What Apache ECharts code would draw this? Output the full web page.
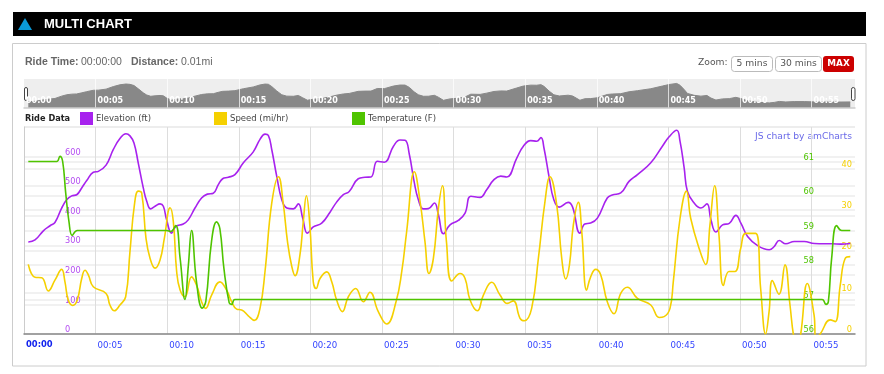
<!DOCTYPE html>
<html>
<head>
<meta charset="utf-8">
<style>html,body{margin:0;padding:0;background:#fff}#c{width:884px;height:374px}</style>
<script src="https://cdn.jsdelivr.net/npm/echarts@6/dist/echarts.min.js"></script>
</head>
<body>
<div id="c"></div>
<script>
const seriesNames = ['Elevation (ft)', 'Speed (mi/hr)', 'Temperature (F)'];
const seriesColors = ['#a722ee', '#f5d000', '#4fc400'];
const tickLabels = ['00:00','00:05','00:10','00:15','00:20','00:25','00:30','00:35','00:40','00:45','00:50','00:55'];

// [minute, feet]
const elevation = [[0.30,311],[0.77,318],[1.35,349],[1.82,366],[2.16,377],[2.63,426],[2.98,454],[3.33,467],[3.68,471],[4.03,494],[4.38,519],[4.84,547],[5.19,550],[5.73,571],[6.24,624],[6.70,661],[7.12,677],[7.40,670],[7.68,646],[7.98,578],[8.33,494],[8.57,449],[8.85,423],[9.15,432],[9.50,440],[9.73,432],[9.96,386],[10.31,341],[10.61,364],[11.12,372],[11.47,386],[11.94,426],[12.40,460],[12.80,473],[13.22,476],[13.57,505],[13.87,525],[14.27,530],[14.73,539],[15.32,579],[16.01,616],[16.48,658],[16.83,676],[17.06,672],[17.30,624],[17.65,533],[18.00,454],[18.35,426],[18.81,423],[19.16,440],[19.46,392],[19.79,341],[20.20,362],[20.79,375],[21.37,412],[21.83,446],[22.30,471],[22.71,482],[23.34,525],[23.81,530],[24.23,531],[24.67,584],[25.16,581],[25.80,635],[26.26,656],[26.61,655],[26.91,607],[27.24,516],[27.54,454],[27.89,423],[28.24,424],[28.66,443],[28.94,403],[29.29,339],[29.75,369],[30.33,384],[30.80,409],[31.20,466],[31.85,462],[32.31,488],[32.82,522],[33.29,534],[33.71,531],[34.41,595],[34.87,635],[35.38,654],[35.80,652],[36.10,664],[36.31,629],[36.68,528],[37.00,454],[37.38,429],[38.00,445],[38.31,429],[38.82,341],[39.16,372],[39.57,375],[40.04,392],[40.73,460],[41.08,470],[41.67,477],[42.25,516],[42.84,539],[43.77,579],[44.58,635],[45.05,667],[45.58,689],[45.81,652],[46.10,562],[46.33,482],[46.80,443],[47.27,426],[47.69,440],[47.97,386],[48.32,345],[48.78,369],[49.25,374],[49.71,401],[50.06,375],[50.53,330],[51.23,299],[52.04,285],[52.39,296],[52.74,316],[53.20,305],[53.79,313],[54.49,313],[55.19,306],[56.47,305],[57.05,304],[57.70,306]];

// [minute, mi/hr]
const speed = [[0.30,16.8],[0.77,13.7],[1.24,13.6],[1.70,10.4],[2.16,13.0],[2.63,15.6],[2.86,12.6],[3.09,8.2],[3.40,6.9],[3.72,8.2],[4.03,13.4],[4.26,15.4],[4.49,14.3],[4.84,11.4],[5.73,9.8],[6.00,7.0],[6.31,5.6],[6.70,7.0],[7.10,9.0],[7.40,19.9],[7.71,31.2],[7.98,34.5],[8.22,34.0],[8.52,23.1],[8.80,18.3],[9.15,15.9],[9.50,17.9],[9.80,23.1],[10.20,30.5],[10.43,27.1],[10.66,15.1],[10.90,10.6],[11.24,9.0],[11.70,13.8],[12.05,11.8],[12.40,7.8],[12.68,6.2],[13.10,9.4],[13.68,12.6],[14.15,10.6],[14.50,7.8],[14.85,6.0],[15.20,5.8],[15.66,4.4],[16.08,3.3],[16.48,6.2],[16.83,15.1],[17.30,31.6],[17.77,38.0],[18.10,31.6],[18.40,22.3],[18.70,16.3],[18.93,14.1],[19.27,19.1],[19.50,27.1],[19.72,33.4],[19.96,26.3],[20.20,12.6],[20.40,11.0],[20.67,13.4],[21.14,15.0],[21.49,12.6],[21.83,8.2],[22.23,5.4],[22.65,9.0],[23.16,11.0],[23.70,7.8],[24.16,10.1],[24.74,5.4],[25.33,2.4],[25.98,7.8],[26.38,15.1],[26.72,24.7],[27.26,39.2],[27.66,32.0],[28.00,22.3],[28.28,14.6],[28.59,18.3],[28.94,30.4],[29.22,35.8],[29.50,22.3],[29.88,12.8],[30.45,14.6],[30.80,13.4],[31.15,8.2],[31.66,5.6],[32.08,9.4],[32.66,12.5],[33.24,9.4],[33.75,7.4],[34.17,8.0],[34.64,3.8],[34.94,3.2],[35.45,6.2],[35.92,18.3],[36.38,32.0],[36.73,38.0],[37.20,31.2],[37.55,18.3],[37.83,13.3],[38.09,16.7],[38.36,26.3],[38.71,31.8],[38.95,24.7],[39.29,10.6],[39.57,13.8],[39.92,15.6],[40.27,14.3],[40.73,7.8],[41.20,4.9],[41.67,9.8],[42.13,11.3],[42.84,8.6],[43.77,7.0],[44.35,4.0],[44.70,4.2],[45.11,6.2],[45.34,12.6],[45.81,27.9],[46.26,34.5],[46.56,27.9],[47.14,20.7],[47.60,16.8],[47.90,26.3],[48.23,35.8],[48.53,23.9],[48.84,11.7],[49.23,15.1],[49.65,15.1],[50.05,20.7],[50.40,24.3],[51.09,24.3],[51.44,11.0],[51.79,0],[52.03,5.4],[52.26,12.9],[52.72,9.6],[53.14,16.7],[53.49,7.0],[53.77,-1],[54.00,-3],[54.24,0],[54.70,12.2],[55.17,4.6],[55.30,-1],[55.60,0],[56.30,3.4],[56.65,3.0],[57.00,11.8],[57.35,18.3],[57.70,18.7]];

// [minute, degrees F]
const temperature = [[0.30,61],[2.28,61],[2.51,61.15],[2.70,61],[2.91,60.1],[3.14,59.26],[3.37,58.86],[3.72,59],[9.96,59],[10.24,58.97],[10.59,59.14],[10.90,58.2],[11.24,57],[11.48,58],[11.70,59],[12.05,57.5],[12.45,56.75],[12.70,56.95],[13.10,58.7],[13.45,59.25],[13.68,59.05],[13.96,57.9],[14.33,56.9],[14.50,56.86],[14.73,57],[55.73,57],[56.00,56.86],[56.17,56.94],[56.40,58.2],[56.75,59.14],[57.10,59],[57.70,59]];

const FONT = '"DejaVu Sans", sans-serif';
const SANS = '"Liberation Sans", Arial, sans-serif';
const tMax = 58.03;
const txt = (x, y, text, o = {}) => ({type:'text', x, y, silent:true, style:{text, fill:o.fill||'#666', font:(o.weight||'normal')+' '+(o.size||10)+'px '+(o.family||FONT), textAlign:o.align||'left', textVerticalAlign:'middle'}});
const box = (x, y, w, h, fill, stroke, r) => ({type:'rect', silent:true, shape:{x, y, width:w, height:h, r:r||0}, style:{fill, stroke:stroke||null, lineWidth:1}});

const legendX = [80, 214, 352];
const graphic = [
  box(13, 12, 853, 24, '#000'),
  {type:'polygon', silent:true, shape:{points:[[25,18],[32,30],[18,30]]}, style:{fill:'#0a9ad8'}},
  txt(44, 24.5, 'MULTI CHART', {fill:'#fff', weight:'bold', size:13, family:SANS}),
  box(12.5, 43.5, 853.5, 322.5, null, '#cccccc'),
  txt(25, 62.5, 'Ride Time:', {weight:'bold', size:10.5, family:SANS}),
  txt(81, 62.5, '00:00:00', {size:10.5, family:SANS}),
  txt(131, 62.5, 'Distance:', {weight:'bold', size:10.5, family:SANS}),
  txt(181, 62.5, '0.01mi', {size:10.5, family:SANS}),
  txt(698, 63, 'Zoom:', {size:9.2, fill:'#555'}),
  box(731.5, 56.5, 41, 15, '#fff', '#bbb', 3),
  txt(752, 64, '5 mins', {size:9.2, align:'center', fill:'#555'}),
  box(775.5, 56.5, 46, 15, '#fff', '#bbb', 3),
  txt(798.5, 64, '30 mins', {size:9.2, align:'center', fill:'#555'}),
  box(823, 56, 31, 16, '#cc0000', null, 3),
  txt(838.5, 64, 'MAX', {size:8.8, weight:'bold', align:'center', fill:'#fff'}),
  box(24.5, 87.5, 3, 13, '#fff', '#444', 2),
  box(851.5, 87.5, 3.5, 13, '#fff', '#444', 2),
  txt(25, 119, 'Ride Data', {size:8.2, weight:'bold', fill:'#222'}),
  txt(852, 137, 'JS chart by amCharts', {size:9.2, align:'right', fill:'#6a6ae8'})
];
seriesNames.forEach((n, i) => {
  graphic.push(box(legendX[i], 112, 13, 13, seriesColors[i]));
  graphic.push(txt(legendX[i] + 16, 119, n, {size:8.5, fill:'#444'}));
});

const yBase = {type:'value', gridIndex:0, axisLine:{show:false}, axisTick:{show:false}, splitLine:{show:true, lineStyle:{color:'#ececec', width:1.6}}};
const minuteLabel = v => { const i = tickLabels[v / 5]; return i === undefined ? '' : i; };

const option = {
  animation:false,
  graphic,
  grid:[
    {left:24, right:29, top:127, height:207, show:false},
    {left:24, right:29, top:79, height:29, show:true, backgroundColor:'#eeeeee', borderWidth:0}
  ],
  xAxis:[
    {type:'value', gridIndex:0, min:0, max:tMax, interval:5,
      axisLine:{show:true, lineStyle:{color:'#888', width:1.5}}, axisTick:{show:false},
      splitLine:{show:true, showMaxLine:false, showMinLine:false, lineStyle:{color:'#dddddd', width:1}},
      axisLabel:{showMaxLabel:false, align:'left', margin:7, padding:[0,0,0,2], fontFamily:FONT, fontSize:8.6, color:'#3344ff',
        formatter:v => v === 0 ? '{b|' + minuteLabel(v) + '}' : minuteLabel(v),
        rich:{b:{fontWeight:'bold', fontFamily:FONT, fontSize:8.4, color:'#1122ee'}}}},
    {type:'value', gridIndex:1, min:0, max:tMax, interval:5, z:10,
      axisLine:{show:true, lineStyle:{color:'#cccccc', width:1.5}}, axisTick:{show:false},
      splitLine:{show:true, showMaxLine:false, showMinLine:false, z:5, lineStyle:{color:'#ffffff', width:1, opacity:0.7}},
      axisLabel:{showMaxLabel:false, inside:true, align:'left', margin:3, padding:[0,0,0,2], fontFamily:FONT, fontWeight:'bold', fontSize:8, color:'#fff',
        formatter:minuteLabel}}
  ],
  yAxis:[
    Object.assign({}, yBase, {position:'left', min:0, max:700, interval:100,
      axisLine:{show:true, lineStyle:{color:'#cccccc'}},
      axisLabel:{inside:true, margin:41, verticalAlign:'bottom', showMaxLabel:false, fontFamily:FONT, fontSize:8.2, color:'#b44cf2'}}),
    Object.assign({}, yBase, {position:'right', min:0, max:50, interval:10,
      axisLabel:{inside:true, margin:3, verticalAlign:'bottom', showMaxLabel:false, fontFamily:FONT, fontSize:8.2, color:'#f5d000'}}),
    Object.assign({}, yBase, {position:'right', min:56, max:62, interval:1,
      axisLabel:{inside:true, margin:41, verticalAlign:'bottom', showMaxLabel:false, fontFamily:FONT, fontSize:8.2, color:'#4fc400'}}),
    {type:'value', gridIndex:1, min:180, max:781, show:false, splitLine:{show:false}}
  ],
  series:[
    {name:seriesNames[0], type:'line', xAxisIndex:0, yAxisIndex:0, data:elevation, smooth:0.45, showSymbol:false, z:3, lineStyle:{color:seriesColors[0], width:1.6}},
    {name:seriesNames[1], type:'line', xAxisIndex:0, yAxisIndex:1, data:speed, smooth:0.45, showSymbol:false, z:4, clip:true, lineStyle:{color:seriesColors[1], width:1.6}},
    {name:seriesNames[2], type:'line', xAxisIndex:0, yAxisIndex:2, data:temperature, smooth:0.45, showSymbol:false, z:5, lineStyle:{color:seriesColors[2], width:1.6}},
    {name:'Navigator', type:'line', xAxisIndex:1, yAxisIndex:3, data:elevation, showSymbol:false, z:2, lineStyle:{color:'#888888', width:1}, areaStyle:{color:'#888888', opacity:1, origin:'start'}}
  ]
};
const chart = echarts.init(document.getElementById('c'), null, {renderer:'canvas'});
chart.setOption(option);
</script>
</body>
</html>
